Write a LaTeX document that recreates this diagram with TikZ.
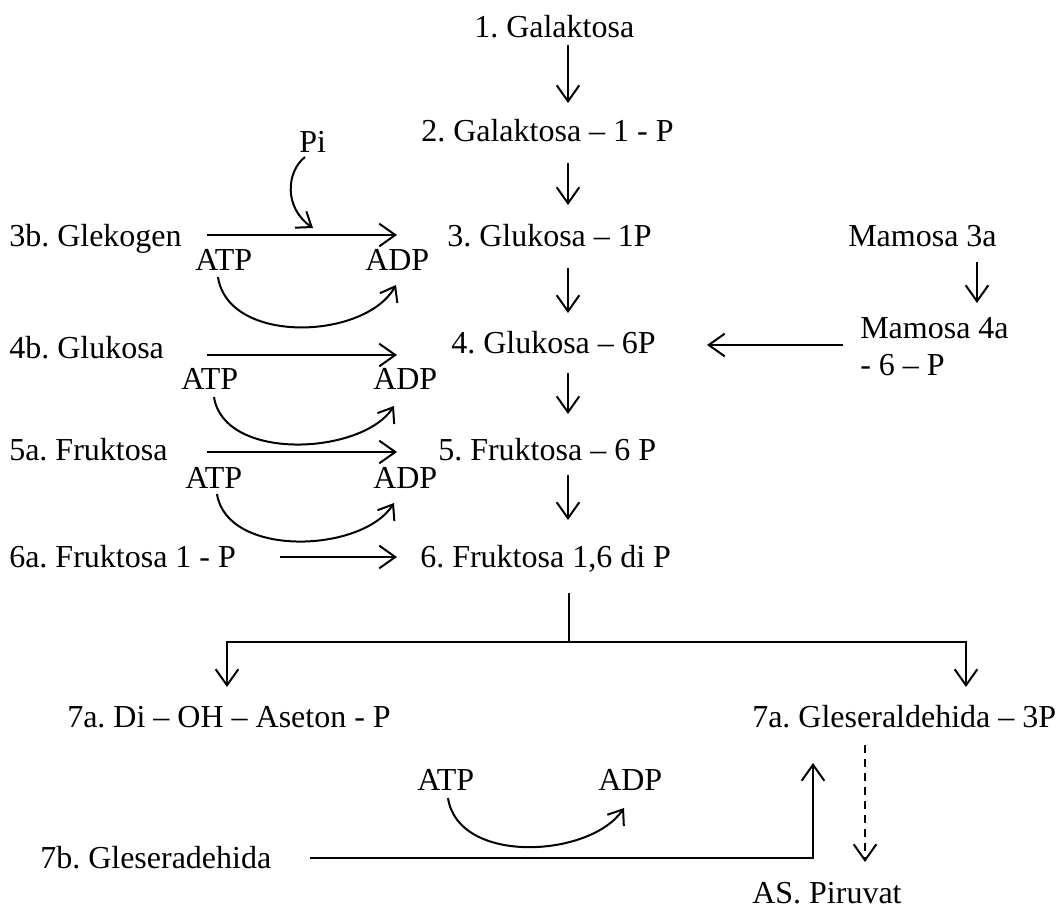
\documentclass[tikz,border=0pt]{standalone}
\usepackage{fontspec}
\setmainfont{Liberation Serif}
\usetikzlibrary{arrows.meta,calc}
\frenchspacing
\begin{document}
\begin{tikzpicture}[x=0.75pt,y=-0.75pt,
  lbl/.style={anchor=base west,inner sep=0pt,font=\fontsize{24pt}{28pt}\selectfont},
  arr/.style={line width=1.5pt,-{Straight Barb[length=12pt,width=17pt,line width=1.5pt]}},
  ln/.style={line width=1.5pt},
  curvy/.style={line width=1.5pt,-{Straight Barb[length=10pt,width=15pt,line width=1.5pt]}},
  dsh/.style={arr,dash pattern=on 6pt off 4.5pt}]
\useasboundingbox (0,0) rectangle (1061,913);
% main column
\node[lbl] (g1) at (474,38) {1. Galaktosa};
\node[lbl] (g2) at (421,142) {2. Galaktosa – 1 - P};
\node[lbl] (g3) at (447,247) {3. Glukosa – 1P};
\node[lbl] (g4) at (451,353) {4. Glukosa – 6P};
\node[lbl] (g5) at (438,460) {5. Fruktosa – 6 P};
\node[lbl] (g6) at (420,567) {6. Fruktosa 1,6 di P};
\node[lbl] (d7) at (67,727) {7a. Di – OH – Aseton - P};
\node[lbl] (g7) at (752,727) {7a. Gleseraldehida – 3P};
\node[lbl] (pyr) at (752,903) {AS. Piruvat};
\node[lbl] (b7) at (40,868) {7b. Gleseradehida};
% left
\node[lbl] (b3) at (9,247) {3b. Glekogen};
\node[lbl] (b4) at (9,358) {4b. Glukosa};
\node[lbl] (b5) at (9,460) {5a. Fruktosa};
\node[lbl] (b6) at (9,567) {6a. Fruktosa 1 - P};
\node[lbl] (pi) at (299,153) {Pi};
\node[lbl] (atp3) at (195,271) {ATP};
\node[lbl] (adp3) at (365,271) {ADP};
\node[lbl] (atp4) at (181,389) {ATP};
\node[lbl] (adp4) at (373,389) {ADP};
\node[lbl] (atp5) at (185,488) {ATP};
\node[lbl] (adp5) at (373,488) {ADP};
\node[lbl] (atp7) at (417,790) {ATP};
\node[lbl] (adp7) at (598,790) {ADP};
% right
\node[lbl] (m3) at (848,247) {Mamosa 3a};
\node[lbl] (m4) at (860,338) {Mamosa 4a};
\node[lbl] (m4b) at (860,375) {- 6 – P};
% coordinates
\coordinate (a1s) at (568,45);  \coordinate (a1e) at (568,103);
\coordinate (a2s) at (568,163); \coordinate (a2e) at (568,205);
\coordinate (a3s) at (568,268); \coordinate (a3e) at (568,313);
\coordinate (a4s) at (568,373); \coordinate (a4e) at (568,414);
\coordinate (a5s) at (568,475); \coordinate (a5e) at (568,520);
\coordinate (h3s) at (207,235); \coordinate (h3e) at (397,235);
\coordinate (h4s) at (207,355); \coordinate (h4e) at (397,355);
\coordinate (h5s) at (207,452); \coordinate (h5e) at (397,452);
\coordinate (h6s) at (280,557); \coordinate (h6e) at (397,557);
\coordinate (pie) at (313,228);
\coordinate (ms) at (977,262); \coordinate (me) at (977,303);
\coordinate (ls) at (843,345); \coordinate (le) at (707,345);
\coordinate (br0) at (569,593); \coordinate (br1) at (569,642);
\coordinate (brl) at (227,687); \coordinate (brr) at (966,687);
\coordinate (bs) at (310,858); \coordinate (be) at (813,763);
\coordinate (ds) at (865,745); \coordinate (de) at (865,862);
% arrows
\draw[arr] (a1s) -- (a1e);
\draw[arr] (a2s) -- (a2e);
\draw[arr] (a3s) -- (a3e);
\draw[arr] (a4s) -- (a4e);
\draw[arr] (a5s) -- (a5e);
\draw[arr] (h3s) -- (h3e);
\draw[arr] (h4s) -- (h4e);
\draw[arr] (h5s) -- (h5e);
\draw[arr] (h6s) -- (h6e);
\draw[arr] (ms) -- (me);
\draw[arr] (ls) -- (le);
\draw[ln] (br0) -- (br1);
\draw[arr] (br1) -| (brl);
\draw[arr] (br1) -| (brr);
\draw[arr] (bs) -| (be);
\draw[dsh] (ds) -- (de);
% curved arrows
\draw[curvy] (305,157) .. controls (286,172) and (284,208) .. (pie);
\draw[curvy] (218,277) .. controls (228,345) and (365,340) .. (396,285);
\draw[curvy] (214,397) .. controls (224,462) and (362,455) .. (394,406);
\draw[curvy] (217,494) .. controls (227,558) and (362,553) .. (394,503);
\draw[curvy] (448,798) .. controls (458,865) and (590,858) .. (624,808);
\end{tikzpicture}
\end{document}
